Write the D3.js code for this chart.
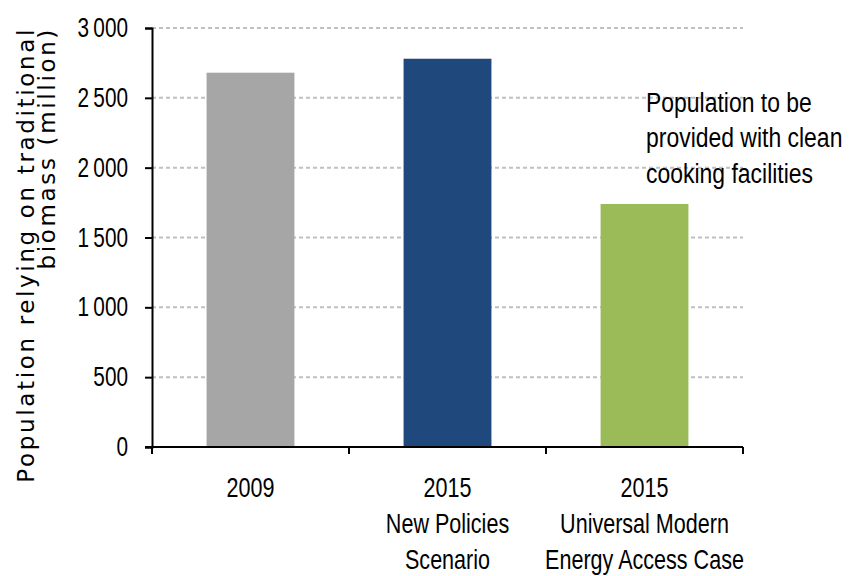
<!DOCTYPE html>
<html>
<head>
<meta charset="utf-8">
<script src="https://cdn.jsdelivr.net/npm/d3@7"></script>
<style>
  body { margin: 0; background: #fff; }
  .narrow { font-family: "Liberation Sans", Arial, sans-serif; }
  .ytitle { font-family: "DejaVu Sans", Verdana, sans-serif; }
</style>
</head>
<body>
<div id="chart"></div>
<script>
const categories = ['2009', '2015 NPS', '2015 UMEAC'];
const categoryLabels = [['2009'], ['2015', 'New Policies', 'Scenario'], ['2015', 'Universal Modern', 'Energy Access Case']];
const values = [2680, 2780, 1740];
const barColors = ['#a6a6a6', '#1f497d', '#9bbb59'];
const yTicks = [0, 500, 1000, 1500, 2000, 2500, 3000];
const yTickLabels = ['0', '500', '1\u2009000', '1\u2009500', '2\u2009000', '2\u2009500', '3\u2009000'];
const yTitle = ['Population relying on traditional', 'biomass (million)'];
const note = ['Population to be', 'provided with clean', 'cooking facilities'];

const width = 852, height = 576;
const plotLeft = 152, plotRight = 743, plotTop = 28, plotBottom = 447;
const squeeze = 0.77; // narrow look for the chart's condensed font

const svg = d3.select('#chart').append('svg')
  .attr('width', width)
  .attr('height', height);

const x = d3.scaleBand().domain(categories).range([plotLeft, plotRight]).padding(0);
const y = d3.scaleLinear().domain([0, 3000]).range([plotBottom, plotTop]);
const barW = x.bandwidth() * 0.446;

// gridlines
svg.append('g')
  .selectAll('line')
  .data(yTicks.filter(d => d > 0))
  .enter()
  .append('line')
  .attr('x1', plotLeft)
  .attr('x2', plotRight)
  .attr('y1', d => y(d))
  .attr('y2', d => y(d))
  .attr('stroke', '#c0c0c0')
  .attr('stroke-width', 2)
  .attr('stroke-dasharray', '4,3');

// bars
svg.append('g')
  .selectAll('rect')
  .data(values)
  .enter()
  .append('rect')
  .attr('x', (d, i) => x(categories[i]) + (x.bandwidth() - barW) / 2)
  .attr('y', d => y(d))
  .attr('width', barW)
  .attr('height', d => y(0) - y(d))
  .attr('fill', (d, i) => barColors[i]);

// y axis
const yAxis = svg.append('g')
  .attr('transform', `translate(${plotLeft},0)`)
  .call(d3.axisLeft(y).tickValues(yTicks).tickFormat((d, i) => yTickLabels[i]).tickSizeOuter(0).tickSize(7));
yAxis.select('.domain').attr('stroke', '#000').attr('stroke-width', 2);
yAxis.selectAll('.tick line').attr('stroke', '#000').attr('stroke-width', 2);
yAxis.selectAll('.tick text')
  .attr('class', 'narrow')
  .attr('x', 0)
  .attr('transform', `translate(-24,0) scale(${squeeze},1)`)
  .attr('font-size', 27)
  .attr('fill', '#000');

// x axis
const xTickPos = categories.map(c => x(c)).concat([plotRight]);
const xAxis = svg.append('g').attr('transform', `translate(0,${plotBottom})`);
xAxis.append('line')
  .attr('x1', plotLeft - 7).attr('x2', plotRight)
  .attr('stroke', '#000').attr('stroke-width', 2);
xAxis.selectAll('.xt')
  .data(xTickPos)
  .enter()
  .append('line')
  .attr('class', 'xt')
  .attr('x1', d => d).attr('x2', d => d)
  .attr('y1', 0).attr('y2', 7)
  .attr('stroke', '#000').attr('stroke-width', 2);

const xl = svg.append('g').attr('class', 'narrow');
categories.forEach((c, i) => {
  const cx = x(c) + x.bandwidth() / 2;
  const t = xl.append('text')
    .attr('transform', `translate(${cx},497) scale(${squeeze},1)`)
    .attr('text-anchor', 'middle')
    .attr('font-size', 28)
    .attr('fill', '#000');
  categoryLabels[i].forEach((line, j) => {
    t.append('tspan')
      .attr('x', 0)
      .attr('y', j * 36)
      .text(line);
  });
});

// y title
const yt = svg.append('text')
  .attr('class', 'ytitle')
  .attr('transform', 'translate(0,27) rotate(-90)')
  .attr('text-anchor', 'end')
  .attr('font-size', 23)
  .attr('letter-spacing', 2.65)
  .attr('fill', '#000');
yTitle.forEach((line, j) => {
  yt.append('tspan')
    .attr('x', 0)
    .attr('y', j === 0 ? 34 : 55)
    .text(line);
});

// annotation
const nt = svg.append('text')
  .attr('class', 'narrow')
  .attr('transform', 'translate(646,112) scale(0.85,1)')
  .attr('font-size', 27)
  .attr('fill', '#000');
note.forEach((line, j) => {
  nt.append('tspan')
    .attr('x', 0)
    .attr('y', j * 35.5)
    .text(line);
});
</script>
</body>
</html>
